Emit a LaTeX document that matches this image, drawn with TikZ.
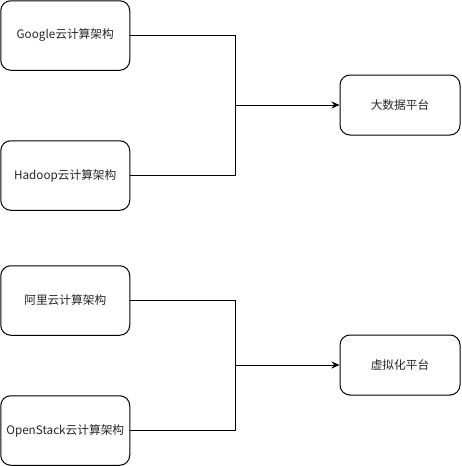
\documentclass[tikz,border=0pt]{standalone}
\usepackage{fontspec}
\setmainfont{Noto Sans CJK SC}
\usetikzlibrary{arrows.meta}
\begin{document}
\begin{tikzpicture}[x=1pt,y=-1pt,
  box/.style={draw=black,line width=1pt,rounded corners=10pt,fill=white,
    minimum width=129pt,minimum height=69.5pt,inner sep=0pt,
    font=\fontsize{11.7}{14}\selectfont,text=black!85},
  target/.style={box,minimum width=120pt,minimum height=60pt},
  link/.style={draw=black,line width=1pt},
  arr/.style={link,-{Stealth[length=8pt,width=7pt]}}]
\useasboundingbox (0,0) rectangle (461,466);
\node[box] (g) at (65.25,35.5) {Google云计算架构};
\node[box] (h) at (65.25,175.5) {Hadoop云计算架构};
\node[box] (a) at (65.25,300.5) {阿里云计算架构};
\node[box] (o) at (65.25,430.5) {OpenStack云计算架构};
\node[target] (b) at (400,105) {大数据平台};
\node[target] (v) at (400,365) {虚拟化平台};
\coordinate (j1) at (235.5,105);
\coordinate (j2) at (235.5,365);
\draw[link] (g.east) -| (j1);
\draw[link] (h.east) -| (j1);
\draw[arr] (j1) -- (b.west);
\draw[link] (a.east) -| (j2);
\draw[link] (o.east) -| (j2);
\draw[arr] (j2) -- (v.west);
\end{tikzpicture}
\end{document}
